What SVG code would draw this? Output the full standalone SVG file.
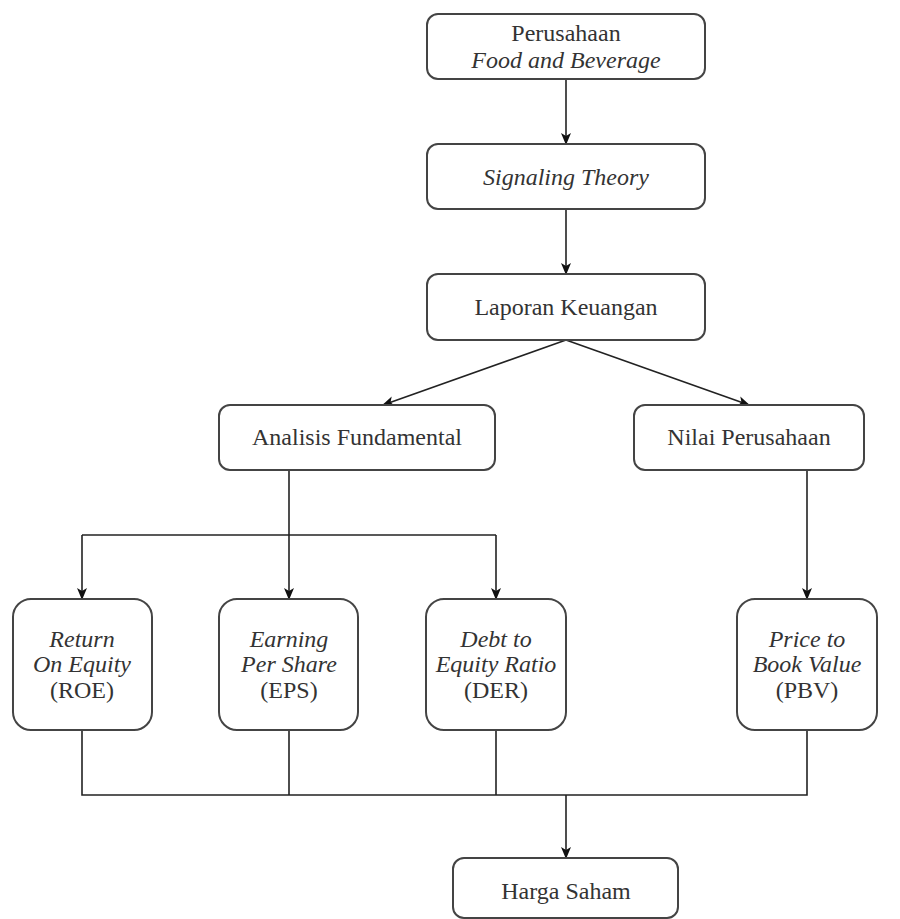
<svg xmlns="http://www.w3.org/2000/svg" width="900" height="919" viewBox="0 0 900 919">
<style>
.box{fill:#fff;stroke:#444;stroke-width:2}
.t{font-family:'Liberation Serif','Tinos','Times New Roman','DejaVu Serif',serif;font-size:24px;fill:#333;text-anchor:middle}
.i{font-style:italic}
.c{fill:none;stroke:#222;stroke-width:1.6}
</style>
<defs>
<marker id="ah" markerWidth="12" markerHeight="12" refX="11" refY="6" orient="auto" markerUnits="userSpaceOnUse">
<path d="M0,1 L12,6 L0,11 L3,6 Z" fill="#111"/>
</marker>
</defs>
<rect width="900" height="919" fill="#fff"/>
<g id="connectors">
<line class="c" x1="566" y1="79" x2="566" y2="144" marker-end="url(#ah)"/>
<line class="c" x1="566" y1="209" x2="566" y2="274" marker-end="url(#ah)"/>
<line class="c" x1="566" y1="340" x2="383" y2="405" marker-end="url(#ah)"/>
<line class="c" x1="566" y1="340" x2="749" y2="405" marker-end="url(#ah)"/>
<line class="c" x1="289" y1="470" x2="289" y2="599" marker-end="url(#ah)"/>
<line class="c" x1="82" y1="535" x2="496" y2="535"/>
<line class="c" x1="82" y1="535" x2="82" y2="599" marker-end="url(#ah)"/>
<line class="c" x1="496" y1="535" x2="496" y2="599" marker-end="url(#ah)"/>
<line class="c" x1="807" y1="470" x2="807" y2="599" marker-end="url(#ah)"/>
<path class="c" d="M82,730 V795 H807 V730 M289,730 V795 M496,730 V795"/>
<line class="c" x1="566" y1="795" x2="566" y2="858" marker-end="url(#ah)"/>
</g>
<g id="perusahaan">
<rect class="box" x="427" y="14" width="278" height="65" rx="11"/>
<text class="t" x="566" y="41">Perusahaan</text>
<text class="t i" x="566" y="68">Food and Beverage</text>
</g>
<g id="signaling">
<rect class="box" x="427" y="144" width="278" height="65" rx="11"/>
<text class="t i" x="566" y="185">Signaling Theory</text>
</g>
<g id="laporan">
<rect class="box" x="427" y="274" width="278" height="66" rx="11"/>
<text class="t" x="566" y="315">Laporan Keuangan</text>
</g>
<g id="analisis">
<rect class="box" x="219" y="405" width="276" height="65" rx="11"/>
<text class="t" x="357" y="445">Analisis Fundamental</text>
</g>
<g id="nilai">
<rect class="box" x="634" y="405" width="230" height="65" rx="11"/>
<text class="t" x="749" y="445">Nilai Perusahaan</text>
</g>
<g id="roe">
<rect class="box" x="13" y="599" width="139" height="131" rx="18"/>
<text class="t i" x="82" y="647">Return</text>
<text class="t i" x="82" y="672">On Equity</text>
<text class="t" x="82" y="698">(ROE)</text>
</g>
<g id="eps">
<rect class="box" x="219" y="599" width="139" height="131" rx="18"/>
<text class="t i" x="289" y="647">Earning</text>
<text class="t i" x="289" y="672">Per Share</text>
<text class="t" x="289" y="698">(EPS)</text>
</g>
<g id="der">
<rect class="box" x="426" y="599" width="140" height="131" rx="18"/>
<text class="t i" x="496" y="647">Debt to</text>
<text class="t i" x="496" y="672">Equity Ratio</text>
<text class="t" x="496" y="698">(DER)</text>
</g>
<g id="pbv">
<rect class="box" x="737" y="599" width="140" height="131" rx="18"/>
<text class="t i" x="807" y="647">Price to</text>
<text class="t i" x="807" y="672">Book Value</text>
<text class="t" x="807" y="698">(PBV)</text>
</g>
<g id="harga">
<rect class="box" x="453" y="858" width="225" height="60" rx="11"/>
<text class="t" x="566" y="899">Harga Saham</text>
</g>
</svg>
